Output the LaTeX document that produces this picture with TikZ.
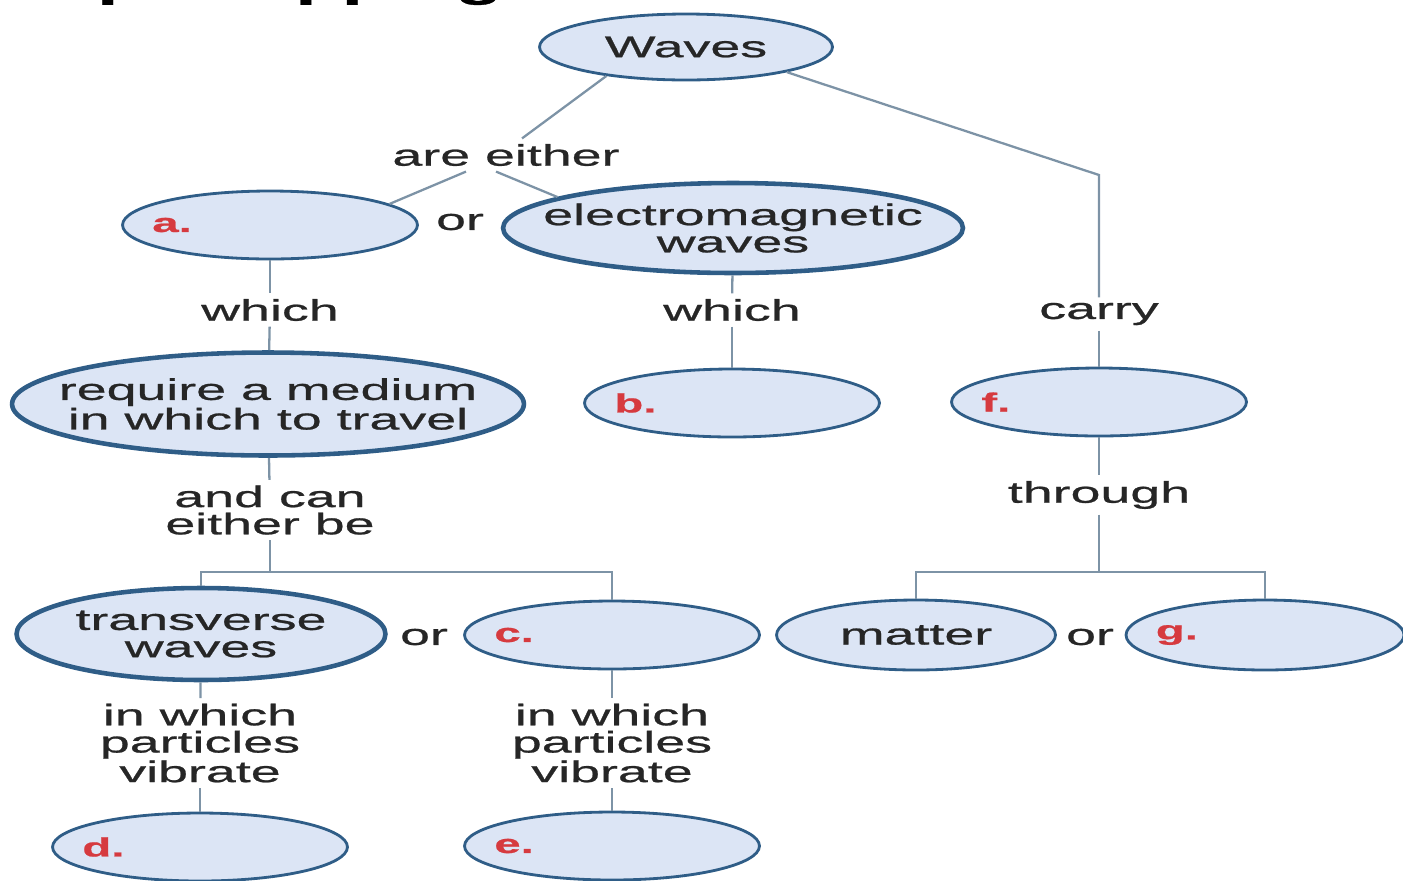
\documentclass[tikz,border=0pt]{standalone}
\usepackage{fontspec}
\usepackage{tikz}
\usetikzlibrary{calc,shapes.geometric}
\newfontfamily\mapfont[FakeStretch=1.8,FakeBold=0.8]{Liberation Sans}
\definecolor{mapfill}{HTML}{DCE5F5}
\definecolor{mapline}{HTML}{2F5D87}
\definecolor{maplink}{HTML}{7D93A6}
\definecolor{maptext}{HTML}{262626}
\definecolor{mapred}{HTML}{D63A3F}

\begin{document}
\begin{tikzpicture}[x=0.02cm,y=-0.02cm,
    concept/.style={ellipse,draw=mapline,fill=mapfill,line width=1.6pt,inner sep=0pt,
      text=maptext,font=\mapfont\fontsize{17}{15.5}\selectfont,align=center},
    keyconcept/.style={concept,line width=2.6pt},
    blank/.style={concept,minimum width=5.9cm,minimum height=1.36cm},
    letter/.style={text=mapred,font=\mapfont\bfseries\fontsize{15}{15}\selectfont,
      anchor=west,xshift=0.5cm},
    word/.style={text=maptext,font=\mapfont\fontsize{17}{15.5}\selectfont,
      align=center,inner sep=3pt},
    link/.style={draw=maplink,line width=1.3pt}]
  \useasboundingbox (0,0) rectangle (1403,880);
  % heading, cut off by the top edge
  \begin{scope}
    \clip (0,0) rectangle (1403,880);
    \node[anchor=base west,inner sep=0pt,text=black,
      font=\mapfont\bfseries\fontsize{24}{24}\selectfont] (heading) at (-135,-4) {Concept Mapping};
  \end{scope}

  % concepts
  \node[concept,minimum width=5.86cm,minimum height=1.32cm] (waves) at (686,47) {Waves};
  \node[blank,label={[letter]west:a.}] (a) at (270,225) {};
  \node[keyconcept,minimum width=9.2cm,minimum height=1.8cm,
    label={[word]center:electromagnetic\\waves}] (em) at (733,228) {};
  \node[keyconcept,minimum width=10.24cm,minimum height=2.06cm,
    label={[word]center:require a medium\\in which to travel}] (medium) at (268,404) {};
  \node[blank,label={[letter]west:b.}] (b) at (732,403) {};
  \node[blank,label={[letter]west:f.}] (f) at (1099,402) {};
  \node[keyconcept,minimum width=7.38cm,minimum height=1.84cm,
    label={[word]center:transverse\\waves}] (transverse) at (201,634) {};
  \node[blank,label={[letter]west:c.}] (c) at (612,635) {};
  \node[concept,minimum width=5.58cm,minimum height=1.4cm] (matter) at (916,635) {matter};
  \node[concept,minimum width=5.56cm,minimum height=1.4cm,label={[letter]west:g.}] (g) at (1265,635) {};
  \node[blank,label={[letter]west:d.}] (d) at (200,847) {};
  \node[blank,label={[letter]west:e.}] (e) at (612,846) {};

  % linking words
  \node[word] (either) at (506,155) {are either};
  \node[word] (or1) at (460,222) {or};
  \node[word] (which1) at (270,310) {which};
  \node[word] (which2) at (732,310) {which};
  \node[word] (carry) at (1099,314) {carry};
  \node[word] (andcan) at (270,510) {and can\\either be};
  \node[word] (through) at (1099,495) {through};
  \node[word] (or2) at (424,637) {or};
  \node[word] (or3) at (1090,637) {or};
  \node[word] (vibrate1) at (200,743) {in which\\particles\\vibrate};
  \node[word] (vibrate2) at (612,743) {in which\\particles\\vibrate};

  \coordinate (bend) at (1099,175);
  \coordinate (fork1) at (270,572);
  \coordinate (fork2) at (1099,572);

  % connectors
  \draw[link] (waves.200) -- ($(either.north)+(16,0)$);
  \draw[link] ($(either.south)+(-40,0)$) -- (a.10);
  \draw[link] ($(either.south)+(-10,0)$) -- (em.170);
  \draw[link] (waves.-14) -- (bend) -- (carry);
  \draw[link] (carry) -- (f);
  \draw[link] (a) -- (which1);
  \draw[link] (which1) -- (medium);
  \draw[link] (em) -- (which2);
  \draw[link] (which2) -- (b);
  \draw[link] (medium) -- (andcan);
  \draw[link] (andcan) -- (fork1);
  \draw[link] (transverse.north) |- (fork1) -| (c.north);
  \draw[link] (transverse) -- (vibrate1);
  \draw[link] (vibrate1) -- (d);
  \draw[link] (c) -- (vibrate2);
  \draw[link] (vibrate2) -- (e);
  \draw[link] (f) -- (through);
  \draw[link] (through) -- (fork2);
  \draw[link] (matter.north) |- (fork2) -| (g.north);
\end{tikzpicture}
\end{document}
